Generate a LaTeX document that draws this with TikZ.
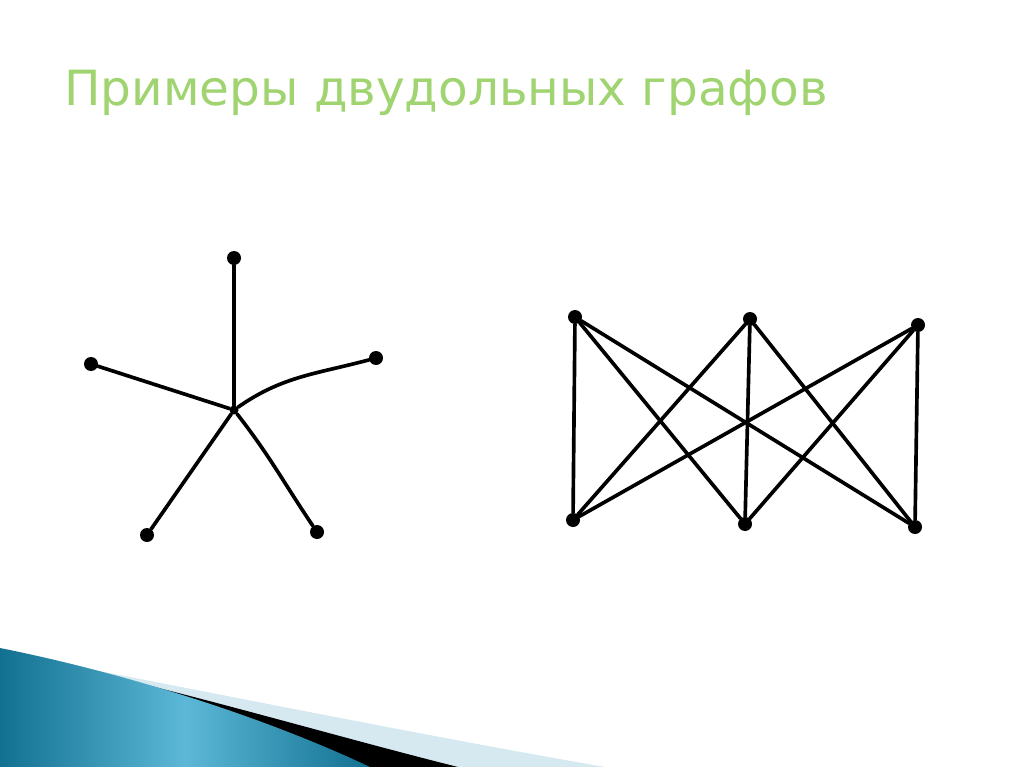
\documentclass[tikz,border=0pt]{standalone}
\usepackage{fontspec}
\newfontfamily\titlefont{DejaVu Sans}
\usetikzlibrary{calc}
\definecolor[named]{TitleGreen}{RGB}{160,212,112}
\definecolor[named]{WaveDark}{RGB}{18,112,145}
\definecolor[named]{WaveLight}{RGB}{92,184,214}
\definecolor[named]{WavePale}{RGB}{214,232,240}
\tikzset{gp/.style={
  x=0.025cm,
  y=-0.025cm
}}
\tikzset{vtx/.style={
  shape=circle,
  fill=black,
  inner sep=0pt,
  minimum size=14*0.025cm
}}
\tikzset{hub/.style={
  vtx,
  minimum size=9*0.025cm
}}
\tikzset{edg/.style={
  line width=2.6pt,
  line cap=round
}}

\begin{document}
\begin{tikzpicture}[gp]

    \useasboundingbox (0,0) rectangle (1024,767);

    %% Title

    \node[anchor=base west,inner sep=0pt,text=TitleGreen,
      font=\titlefont\fontsize{34.5}{40}\selectfont] (title) at (64,106)
      {Примеры двудольных графов};

    %% Bottom corner wave

    % Pale band
    \fill[WavePale] (0,652) .. controls (200,690) and (420,735) .. (605,767)
      -- (0,767) -- cycle;
    % Black band
    \fill[black] (40,660) .. controls (180,690) and (330,735) .. (458,767)
      -- (0,767) -- cycle;
    % Teal face
    \shade[left color=WaveDark,right color=WaveDark,middle color=WaveLight]
      (0,648) .. controls (120,672) and (260,715) .. (370,767)
      -- (0,767) -- cycle;

    %% Star graph

    \node[hub] (c) at (234,410) {};
    \node[vtx] (s1) at (234,258) {};
    \node[vtx] (s2) at (91,364) {};
    \node[vtx] (s3) at (376,358) {};
    \node[vtx] (s4) at (147,535) {};
    \node[vtx] (s5) at (317,532) {};

    \draw[edg] (c) -- (s1);
    \draw[edg] (c) -- (s2);
    \draw[edg] (c) to[out=35,in=195] (s3);
    \draw[edg] (c) -- (s4);
    \draw[edg] (c) to[out=-52,in=124] (s5);

    %% Complete bipartite graph

    \node[vtx] (a1) at (575,317) {};
    \node[vtx] (a2) at (750,319) {};
    \node[vtx] (a3) at (918,325) {};
    \node[vtx] (b1) at (573,520) {};
    \node[vtx] (b2) at (745,524) {};
    \node[vtx] (b3) at (915,527) {};

    \foreach \u in {a1,a2,a3}
      \foreach \v in {b1,b2,b3}
        \draw[edg] (\u) -- (\v);

  \end{tikzpicture}
\end{document}
